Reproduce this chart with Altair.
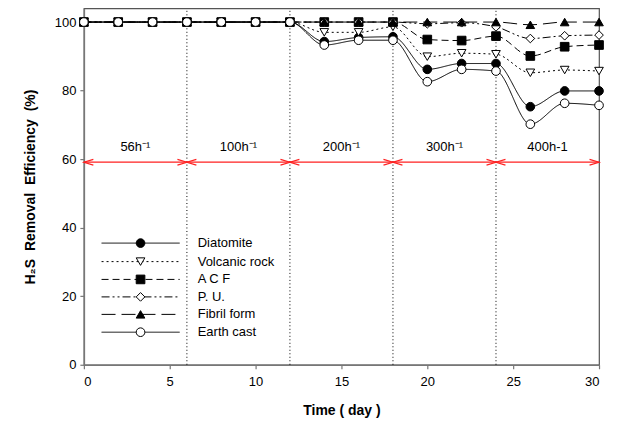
import altair as alt
import pandas as pd

days = [0, 2, 4, 6, 8, 10, 12, 14, 16, 18, 20, 22, 24, 26, 28, 30]
series = ["Diatomite", "Volcanic rock", "A C F", "P. U.", "Fibril form", "Earth cast"]
diatomite = [100, 100, 100, 100, 100, 100, 100, 94.3, 95.5, 95.7, 86.2, 87.9, 87.9, 75.3, 79.9, 79.9]
volcanic = [100, 100, 100, 100, 100, 100, 100, 97.0, 97.0, 98.6, 89.9, 90.9, 90.6, 85.2, 86.0, 85.7]
acf = [100, 100, 100, 100, 100, 100, 100, 100, 100, 100, 94.9, 94.6, 95.9, 90.1, 92.8, 93.3]
pu = [100, 100, 100, 100, 100, 100, 100, 100, 100, 100, 99.5, 99.8, 98.6, 95.2, 96.0, 96.2]
fibril = [100, 100, 100, 100, 100, 100, 100, 100, 100, 100, 100, 100, 100, 99.2, 100, 100]
earth = [100, 100, 100, 100, 100, 100, 100, 93.3, 94.7, 94.7, 82.6, 86.2, 85.7, 70.2, 76.3, 75.7]

shapes = ["circle", "triangle-down", "square", "diamond", "triangle-up", "circle"]
fills = ["black", "white", "black", "white", "black", "white"]
dashes = [[1, 0], [2, 3], [7, 4], [8, 3, 2, 3, 2, 3], [14, 6], [1, 0]]

seg_start = [0, 6, 12, 18, 24]
seg_end = [6, 12, 18, 24, 30]
seg_labels = ["56h\u207b\u00b9", "100h\u207b\u00b9", "200h\u207b\u00b9", "300h\u207b\u00b9", "400h-1"]
dividers = [6, 12, 18, 24]
arrow_y = 59.1
label_y = 63.6

legend_y = [35.5, 30.1, 24.9, 19.8, 14.7, 9.5]
legend_x1, legend_x2, legend_mx, legend_tx = 1.03, 5.58, 3.3, 6.63

values = [diatomite, volcanic, acf, pu, fibril, earth]
rows = []
for i, (name, vals) in enumerate(zip(series, values)):
    for d, v in zip(days, vals):
        rows.append({"series": name, "day": d, "eff": v, "idx": i})
df = pd.DataFrame(rows)

seg_df = pd.DataFrame({"start": seg_start, "end": seg_end, "label": seg_labels,
                       "mid": [(a + b) / 2 for a, b in zip(seg_start, seg_end)],
                       "ay": [arrow_y] * 5, "ly": [label_y] * 5})
div_df = pd.DataFrame({"xv": dividers, "y0": [0] * 4, "y1": [104] * 4})
leg_df = pd.DataFrame({"series": series, "ly": legend_y, "idx": list(range(6)),
                       "x1": [legend_x1] * 6, "x2": [legend_x2] * 6,
                       "mx": [legend_mx] * 6, "tx": [legend_tx] * 6})

xs = alt.Scale(domain=[0, 30], nice=False)
ys = alt.Scale(domain=[0, 104], nice=False)
dash_scale = alt.Scale(domain=series, range=dashes)
shape_scale = alt.Scale(domain=series, range=shapes)
fill_scale = alt.Scale(domain=series, range=fills)

NB = "\u00a0"
X = alt.X("day:Q", scale=xs, axis=alt.Axis(values=[0, 5, 10, 15, 20, 25, 30], title="Time ( day )",
                                            labelPadding=7, titlePadding=15))
Y = alt.Y("eff:Q", scale=ys, axis=alt.Axis(values=[0, 20, 40, 60, 80, 100],
                                            title=f"H\u2082S{NB}{NB}Removal{NB}{NB}Efficiency{NB}{NB}(%)"))

lines = alt.Chart(df).mark_line(interpolate="monotone", color="black", strokeWidth=1).encode(
    x=X, y=Y,
    strokeDash=alt.StrokeDash("series:N", scale=dash_scale, legend=None),
    detail="series:N",
)
points = alt.Chart(df).mark_point(filled=True, stroke="black", strokeWidth=1, size=75, opacity=1).encode(
    x="day:Q", y="eff:Q",
    shape=alt.Shape("series:N", scale=shape_scale, legend=None),
    fill=alt.Fill("series:N", scale=fill_scale, legend=None),
    order=alt.Order("idx:Q"),
)

divs = alt.Chart(div_df).mark_rule(color="black", strokeWidth=1, strokeDash=[1, 2.5]).encode(
    x="xv:Q", y="y0:Q", y2="y1:Q")

arrows = alt.Chart(seg_df).mark_rule(color="#ff2020", strokeWidth=1.3).encode(
    x="start:Q", x2="end:Q", y="ay:Q")
left_heads = alt.Chart(seg_df).mark_point(shape="M 2 -0.6 L 0 0 L 2 0.6", filled=False,
                                          stroke="#ff2020", strokeWidth=1.2, size=90, opacity=1).encode(
    x="start:Q", y="ay:Q")
right_heads = alt.Chart(seg_df).mark_point(shape="M -2 -0.6 L 0 0 L -2 0.6", filled=False,
                                           stroke="#ff2020", strokeWidth=1.2, size=90, opacity=1).encode(
    x="end:Q", y="ay:Q")
seg_text = alt.Chart(seg_df).mark_text(fontSize=13, font="Liberation Sans", color="black").encode(
    x="mid:Q", y="ly:Q", text="label:N")

leg_lines = alt.Chart(leg_df).mark_rule(color="black", strokeWidth=1).encode(
    x="x1:Q", x2="x2:Q", y="ly:Q",
    strokeDash=alt.StrokeDash("series:N", scale=dash_scale, legend=None))
leg_points = alt.Chart(leg_df).mark_point(filled=True, stroke="black", strokeWidth=1, size=75, opacity=1).encode(
    x="mx:Q", y="ly:Q",
    shape=alt.Shape("series:N", scale=shape_scale, legend=None),
    fill=alt.Fill("series:N", scale=fill_scale, legend=None))
leg_text = alt.Chart(leg_df).mark_text(align="left", fontSize=13, font="Liberation Sans", color="black").encode(
    x="tx:Q", y="ly:Q", text="series:N")

chart = alt.layer(divs, arrows, left_heads, right_heads, seg_text, lines, points,
                  leg_lines, leg_points, leg_text).properties(
    width=516, height=357,
    autosize=alt.AutoSizeParams(type="none"),
    padding={"left": 76, "top": 0, "right": 10, "bottom": 60},
).configure_view(stroke="#555", strokeWidth=1.2).configure_axis(
    grid=False, labelFont="Liberation Sans", labelFontSize=13, labelColor="black",
    titleFont="Liberation Sans", titleFontSize=14, titleFontWeight="bold", titleColor="black",
    domainColor="#777", domainWidth=1.5, tickColor="#777", tickSize=4, tickWidth=1.2,
    labelPadding=4,
).configure_axisY(titlePadding=17)

chart.save("out.html", embed_options={"renderer": "svg", "actions": False})
